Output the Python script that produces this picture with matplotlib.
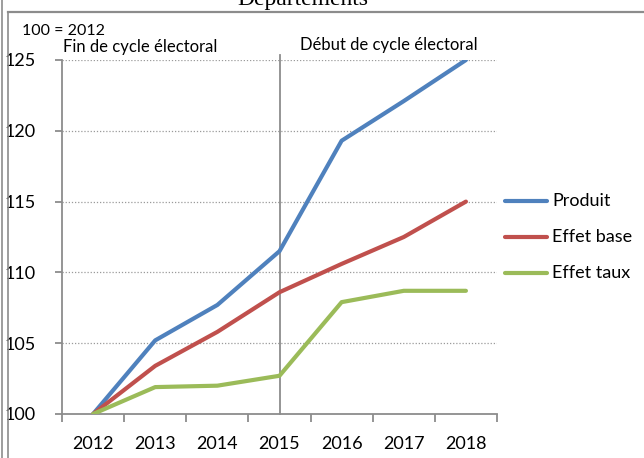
import matplotlib
matplotlib.use("Agg")
import matplotlib.pyplot as plt
from matplotlib.lines import Line2D

years = ["2012", "2013", "2014", "2015", "2016", "2017", "2018"]
series_names = ["Produit", "Effet base", "Effet taux"]
produit = [100, 105.2, 107.7, 111.5, 119.3, 122.1, 125.0]
effet_base = [100, 103.4, 105.8, 108.6, 110.6, 112.5, 115.0]
effet_taux = [100, 101.9, 102.0, 102.7, 107.9, 108.7, 108.7]
y_ticks = [100, 105, 110, 115, 120, 125]
colors = ["#4F81BD", "#C0504D", "#9BBB59"]

W, H = 644, 458
FONT = "Lato"
GRAY = "#8c8c8c"

fig = plt.figure(figsize=(W / 100, H / 100), dpi=100)


def fx(x):
    return x / W


def fy(y):
    return 1 - y / H


# plot area
ax = fig.add_axes([fx(62), fy(414), fx(497) - fx(62), fy(60) - fy(414)])
ax.set_xlim(-0.5, len(years) - 0.5)
ax.set_ylim(100, 125)

xs = list(range(len(years)))
for vals, c, name in zip([produit, effet_base, effet_taux], colors, series_names):
    ax.plot(xs, vals, color=c, lw=3.0, solid_capstyle="round", label=name, zorder=3)

# dotted horizontal gridlines
for t in y_ticks[1:]:
    ax.axhline(t, color="#9a9a9a", lw=0.9, ls=(0, (1, 1.5)), zorder=1)

for s in ["top", "right"]:
    ax.spines[s].set_visible(False)
for s in ["left", "bottom"]:
    ax.spines[s].set_color(GRAY)
    ax.spines[s].set_linewidth(1.3)

ax.set_yticks(y_ticks)
ax.set_yticklabels([str(t) for t in y_ticks], fontsize=13, family=FONT)
ax.tick_params(axis="y", direction="out", length=5, width=1.3, color=GRAY, pad=14)

# category labels centred, tick marks between categories
ax.set_xticks(xs)
ax.set_xticklabels(years, fontsize=13, family=FONT)
ax.tick_params(axis="x", length=0, pad=16)
ax.set_xticks([i - 0.5 for i in range(len(years) + 1)], minor=True)
ax.tick_params(axis="x", which="minor", direction="out", length=6, width=1.3, color=GRAY)

# separator at 2015, rising slightly above the plot area
sep = years.index("2015")
ax.plot([sep, sep], [100, 125.35], color=GRAY, lw=1.3, clip_on=False, zorder=2)

# annotations
fig.text(fx(22), fy(31), "100 = 2012", fontsize=11.5, family=FONT, va="center", ha="left")
fig.text(fx(63), fy(47), "Fin de cycle électoral", fontsize=12, family=FONT, va="center", ha="left")
fig.text(fx(300), fy(45), "Début de cycle électoral", fontsize=12, family=FONT, va="center", ha="left")

# title, partly cut off at the top
fig.text(fx(303), fy(4.5), "Départements", fontsize=17, family="Liberation Serif",
         ha="center", va="baseline")

# legend
leg_y = [201, 237, 273]
for name, c, ly in zip(series_names, colors, leg_y):
    fig.add_artist(Line2D([fx(505), fx(547)], [fy(ly), fy(ly)], color=c, lw=3.0,
                          solid_capstyle="round"))
    fig.text(fx(552), fy(ly), name, fontsize=13, family=FONT, va="center", ha="left")

# chart frame lines
fig.add_artist(Line2D([fx(2), fx(2)], [0, 1], color=GRAY, lw=1.2))
fig.add_artist(Line2D([fx(8), fx(8)], [0, fy(12)], color=GRAY, lw=1.2))
fig.add_artist(Line2D([fx(8), 1], [fy(12), fy(12)], color=GRAY, lw=1.6))

fig.savefig("out.png", dpi=100)
